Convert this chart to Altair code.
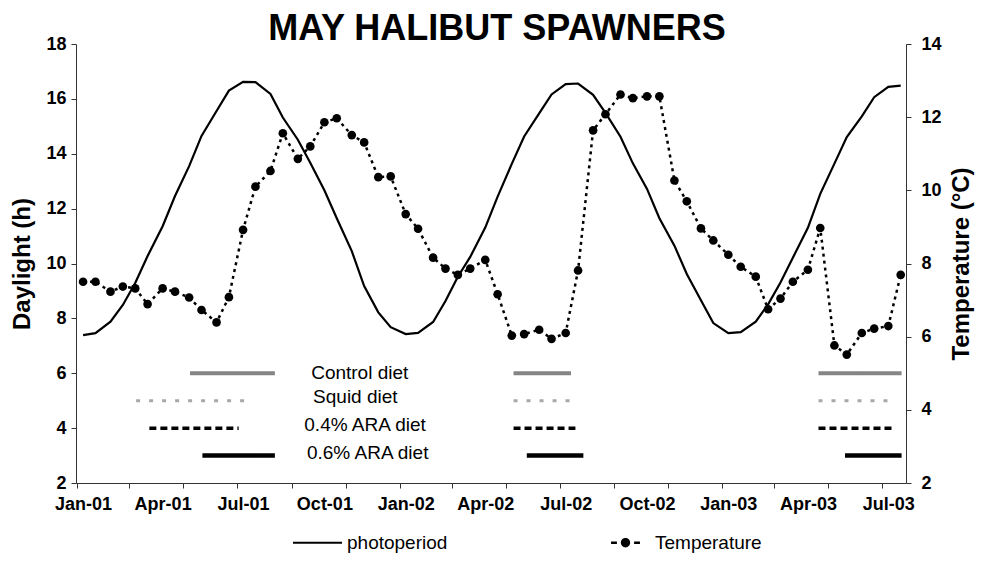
import altair as alt
import pandas as pd

FONT = "Liberation Sans"

# ---------------- data ----------------
months = [(y, m) for y in (2001, 2002, 2003) for m in range(1, 13) if not (y == 2003 and m > 7)]
dates = [f"{y}/{m:02d}/{d:02d}" for (y, m) in months for d in (1, 15)]

daylight = [7.39, 7.46, 7.88, 8.49, 9.29, 10.27, 11.36, 12.46, 13.55, 14.65, 15.56, 16.30,
            16.62, 16.61, 16.18, 15.32, 14.51, 13.67, 12.67, 11.65, 10.45, 9.18, 8.22, 7.68,
            7.43, 7.47, 7.87, 8.63, 9.52, 10.24, 11.31, 12.44, 13.63, 14.63, 15.47, 16.16,
            16.54, 16.56, 16.15, 15.49, 14.62, 13.65, 12.72, 11.65, 10.65, 9.62, 8.66, 7.83,
            7.46, 7.50, 7.88, 8.51, 9.31, 10.21, 11.30, 12.54, 13.64, 14.61, 15.36, 16.06,
            16.44, 16.48]

temperature = [7.50, 7.50, 7.23, 7.37, 7.32, 6.89, 7.32, 7.23, 7.07, 6.73, 6.39, 7.08,
               8.92, 10.10, 10.53, 11.56, 10.86, 11.20, 11.86, 11.97, 11.51, 11.31, 10.36, 10.38,
               9.35, 8.95, 8.16, 7.86, 7.69, 7.86, 8.10, 7.16, 6.03, 6.07, 6.19, 5.94,
               6.10, 7.81, 11.64, 12.08, 12.62, 12.52, 12.57, 12.57, 10.27, 9.70, 8.96, 8.63,
               8.24, 7.91, 7.64, 6.75, 7.04, 7.50, 7.83, 8.97, 5.76, 5.51, 6.10, 6.22,
               6.29, 7.69]

diet_names = ["Control diet", "Squid diet", "0.4% ARA diet", "0.6% ARA diet"]
diet_levels = [6, 5, 4, 3]
diet_starts = [["2001/05/02", "2002/05/03", "2003/04/13"],
               ["2001/03/02", "2002/05/03", "2003/04/13"],
               ["2001/03/17", "2002/05/03", "2003/04/13"],
               ["2001/05/16", "2002/05/18", "2003/05/13"]]
diet_ends = [["2001/08/06", "2002/07/07", "2003/07/16"],
             ["2001/07/11", "2002/07/13", "2003/07/07"],
             ["2001/06/26", "2002/07/12", "2003/07/07"],
             ["2001/08/06", "2002/07/21", "2003/07/16"]]
label_dates = ["2001/11/10", "2001/11/05", "2001/11/16", "2001/11/19"]
label_levels = [6.0, 5.15, 4.1, 3.1]

legend_names = ["photoperiod", "Temperature"]

# ---------------- styles ----------------
diet_colors = ["#858585", "#a8a8a8", "black", "black"]
diet_dashes = [[1, 0], [4, 9], [7, 4], [1, 0]]
diet_widths = [4, 3, 3.5, 4.5]
legend_paths = [
    "M-1,-0.04L1,-0.04L1,0.04L-1,0.04Z",
    "M-0.59,-0.05L-0.35,-0.05L-0.35,0.05L-0.59,0.05Z"
    "M0.35,-0.05L0.59,-0.05L0.59,0.05L0.35,0.05Z"
    "M-0.19,0A0.19,0.19 0 1,0 0.19,0A0.19,0.19 0 1,0 -0.19,0Z",
]

# ---------------- tables ----------------
series_df = pd.DataFrame({"date": dates, "daylight": daylight, "temperature": temperature})
rows = []
for name, lvl, sts, ens in zip(diet_names, diet_levels, diet_starts, diet_ends):
    for s, e in zip(sts, ens):
        rows.append({"diet": name, "level": lvl, "start": s, "end": e})
diet_df = pd.DataFrame(rows)
label_df = pd.DataFrame({"diet": diet_names, "date": label_dates, "level": label_levels})
legend_df = pd.DataFrame({"series": legend_names})

# ---------------- scales & axes ----------------
x_scale = alt.Scale(domain=[alt.DateTime(year=2000, month=12, date=24),
                            alt.DateTime(year=2003, month=7, date=21)])
x_axis = alt.Axis(
    values=[alt.DateTime(year=y, month=m, date=1) for (y, m) in months],
    labelExpr="month(datum.value) % 3 == 0 ? timeFormat(datum.value, '%b-%y') : ''",
    tickOpacity={"condition": {"test": "month(datum.value) % 2 == 0", "value": 1}, "value": 0},
    tickOffset=-6, labelOffset=6, labelFlush=False, labelOverlap=False,
    tickSize=5, labelPadding=7, title=None, grid=False,
)
yl_scale = alt.Scale(domain=[2, 18], nice=False, zero=False)
yl_axis = alt.Axis(orient="left", values=list(range(2, 19, 2)), title="Daylight (h)",
                   tickSize=5, labelPadding=5, titlePadding=11, grid=False)
yr_scale = alt.Scale(domain=[2, 14], nice=False, zero=False)
yr_axis = alt.Axis(orient="right", values=list(range(2, 15, 2)), title="Temperature (°C)",
                   tickSize=5, labelPadding=10, titlePadding=8, titleAngle=270,
                   titleBaseline="top", grid=False)

X = alt.X("date:T", scale=x_scale, axis=x_axis)

# ---------------- left layers ----------------
photo = alt.Chart(series_df).mark_line(color="black", strokeWidth=2.2).encode(
    x=X, y=alt.Y("daylight:Q", scale=yl_scale, axis=yl_axis))

rule_layers = []
for name, col, dash, w in zip(diet_names, diet_colors, diet_dashes, diet_widths):
    rule_layers.append(
        alt.Chart(diet_df).transform_filter(alt.datum.diet == name)
        .mark_rule(color=col, strokeDash=dash, strokeWidth=w, strokeCap="butt")
        .encode(x=alt.X("start:T", scale=x_scale, axis=x_axis), x2=alt.X2("end:T"),
                y=alt.Y("level:Q", scale=yl_scale, axis=yl_axis))
    )

labels = alt.Chart(label_df).mark_text(align="center", baseline="middle", font=FONT,
                                       fontSize=19, color="black").encode(
    x=alt.X("date:T", scale=x_scale, axis=x_axis),
    y=alt.Y("level:Q", scale=yl_scale, axis=yl_axis),
    text="diet:N")

left = alt.layer(photo, *rule_layers, labels)

# ---------------- right layers ----------------
Yr = alt.Y("temperature:Q", scale=yr_scale, axis=yr_axis)
temp_line = alt.Chart(series_df).mark_line(color="black", strokeWidth=2.5,
                                           strokeDash=[3, 4]).encode(x=X, y=Yr)
temp_pts = alt.Chart(series_df).mark_circle(color="black", size=75, opacity=1).encode(x=X, y=Yr)
right = alt.layer(temp_line, temp_pts)

# ---------------- legend ----------------
legend_layer = alt.Chart(legend_df).mark_point(filled=True, opacity=0, color="black").encode(
    shape=alt.Shape("series:N",
                    scale=alt.Scale(domain=legend_names, range=legend_paths),
                    legend=alt.Legend(orient="none", legendX=217, legendY=474,
                                      direction="horizontal", title=None,
                                      symbolSize=2401, symbolFillColor="black",
                                      symbolStrokeColor="black",
                                      symbolStrokeWidth=0, symbolOpacity=1,
                                      labelFont=FONT, labelFontSize=19, labelColor="black",
                                      labelOffset=5, columnPadding=153, padding=0,
                                      symbolOffset=0)))

chart = alt.layer(left, right, legend_layer).resolve_scale(y="independent").properties(
    width=830, height=439,
    autosize=alt.AutoSizeParams(type="none"),
    padding={"left": 68, "top": 36, "right": 71, "bottom": 71},
    title=alt.TitleParams("MAY HALIBUT SPAWNERS", font=FONT, fontSize=36, fontWeight="bold",
                          color="black", anchor="middle", frame="group", dx=6, dy=17,
                          offset=4),
    background="white",
).configure_view(stroke=None).configure_axis(
    labelFont=FONT, labelFontSize=18, labelFontWeight="bold", labelColor="black",
    titleFont=FONT, titleFontSize=24, titleFontWeight="bold", titleColor="black",
    domainColor="#333", tickColor="#333", domainWidth=1, tickWidth=1,
)

chart.save("out.html", embed_options={"renderer": "svg", "actions": False})
